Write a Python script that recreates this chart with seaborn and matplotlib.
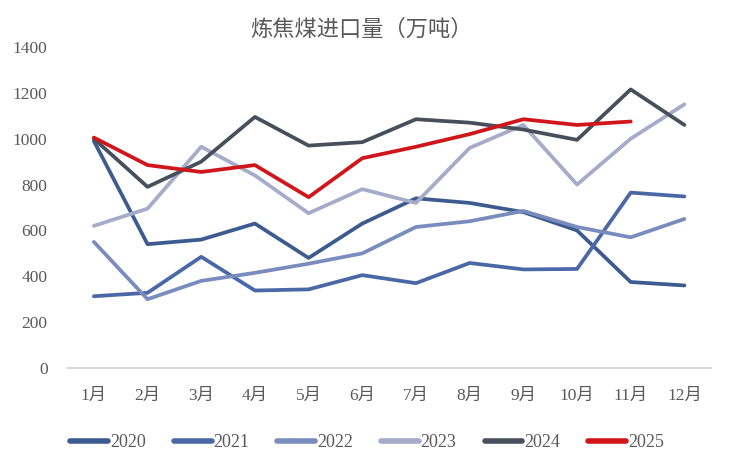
import pandas as pd
import matplotlib
matplotlib.use("Agg")
import matplotlib.pyplot as plt
import seaborn as sns

months = ["1月", "2月", "3月", "4月", "5月", "6月", "7月", "8月", "9月", "10月", "11月", "12月"]
years = ["2020", "2021", "2022", "2023", "2024", "2025"]
v2020 = [990, 540, 560, 630, 480, 630, 740, 720, 680, 600, 375, 360]
v2021 = [313, 328, 485, 338, 343, 405, 370, 458, 430, 432, 765, 748]
v2022 = [550, 300, 380, 415, 455, 500, 615, 640, 685, 615, 570, 650]
v2023 = [620, 695, 965, 840, 675, 780, 720, 960, 1060, 800, 1000, 1150]
v2024 = [1000, 790, 900, 1095, 970, 985, 1085, 1070, 1040, 995, 1215, 1060]
v2025 = [1005, 885, 855, 885, 745, 915, 965, 1020, 1085, 1060, 1075]
colors = ["#3d5b8f", "#4b68a6", "#7a8cbd", "#a5abc9", "#474f5b", "#d0161b"]

rows = []
for y, vals in zip(years, [v2020, v2021, v2022, v2023, v2024, v2025]):
    for i, v in enumerate(vals):
        rows.append({"month": i, "value": v, "year": y})
df = pd.DataFrame(rows)

sns.set_theme(style="white")
plt.rcParams['font.family'] = ['Liberation Serif', 'Noto Sans CJK SC']

fig = plt.figure(figsize=(7.34, 4.7), dpi=100)
ax = fig.add_axes([0.0913, 0.217, 0.8777, 0.683])
sns.lineplot(data=df, x="month", y="value", hue="year", palette=colors,
             linewidth=2.7, ax=ax, legend=False)
for line in ax.get_lines():
    line.set_solid_capstyle("round")
    line.set_solid_joinstyle("round")

ax.set_xlim(-0.5, 11.5)
ax.set_ylim(0, 1400)
ax.set_yticks(range(0, 1401, 200))
ax.set_xticks(range(12))
ax.set_xticklabels(months)
ax.set_xlabel("")
ax.set_ylabel("")
for s in ["top", "right", "left"]:
    ax.spines[s].set_visible(False)
ax.spines["bottom"].set_color("#d0d0d0")
ax.spines["bottom"].set_linewidth(1.2)
ax.tick_params(axis="both", length=0, labelsize=12.5, colors="#595959")
ax.tick_params(axis="x", pad=14)
ax.tick_params(axis="y", pad=14)

fig.text(0.492, 0.935, "炼焦煤进口量（万吨）", fontsize=16, color="#595959",
         ha="center", va="center")

handles = [plt.Line2D([0], [0], color=c, linewidth=4, solid_capstyle="round") for c in colors]
fig.legend(handles, years, loc="center", bbox_to_anchor=(0.5, 0.058), ncol=6,
           frameon=False, fontsize=13, handlelength=2.1, handletextpad=0.1,
           columnspacing=1.55, labelcolor="#595959")

fig.savefig("out.png", dpi=100)
